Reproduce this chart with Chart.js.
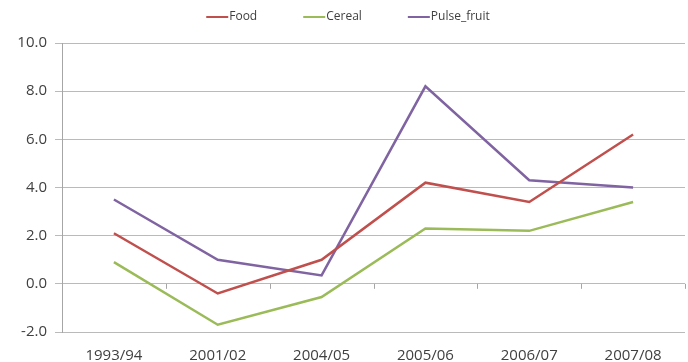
<!DOCTYPE html>
<html>
<head>
<meta charset="utf-8">
<script src="https://cdn.jsdelivr.net/npm/chart.js@4"></script>
<style>
  html, body { margin: 0; padding: 0; background: #fff; }
  #wrap { width: 688px; height: 362px; position: relative; }
</style>
</head>
<body>
<div id="wrap"><canvas id="c"></canvas></div>
<script>
// Growth by period
const periods = ['1993/94', '2001/02', '2004/05', '2005/06', '2006/07', '2007/08'];
const food = [2.1, -0.4, 1.0, 4.2, 3.4, 6.2];
const cereal = [0.9, -1.7, -0.55, 2.3, 2.2, 3.4];
const pulseFruit = [3.5, 1.0, 0.35, 8.2, 4.3, 4.0];
const seriesNames = ['Food', 'Cereal', 'Pulse_fruit'];

const FONT = '"Open Sans", "Liberation Sans", sans-serif';
const TEXT = '#404040';
const GRID = '#BABABA';
const AXIS = '#A6A6A6';

// Legend row drawn across the top: short line sample followed by the name
const topLegend = {
  id: 'topLegend',
  afterDraw(chart) {
    const ctx = chart.ctx;
    const sets = chart.data.datasets;
    const lineLen = 22, textGap = 1, itemGap = 46, y = 17;
    ctx.save();
    ctx.font = '12px ' + FONT;
    const widths = sets.map(ds => lineLen + textGap + ctx.measureText(ds.label).width);
    const total = widths.reduce((a, b) => a + b, 0) + itemGap * (sets.length - 1);
    let x = 348 - total / 2;
    sets.forEach((ds, i) => {
      ctx.strokeStyle = ds.borderColor;
      ctx.lineWidth = 2;
      ctx.beginPath();
      ctx.moveTo(x, y);
      ctx.lineTo(x + lineLen, y);
      ctx.stroke();
      ctx.fillStyle = TEXT;
      ctx.textBaseline = 'middle';
      ctx.textAlign = 'left';
      ctx.fillText(ds.label, x + lineLen + textGap, y);
      x += widths[i] + itemGap;
    });
    ctx.restore();
  }
};

// Category boundary tick marks hanging below the zero line
const zeroTicks = {
  id: 'zeroTicks',
  beforeDatasetsDraw(chart) {
    const xs = chart.scales.x, ys = chart.scales.y;
    const y0 = ys.getPixelForValue(0);
    const ctx = chart.ctx;
    ctx.save();
    ctx.strokeStyle = AXIS;
    ctx.lineWidth = 1;
    ctx.beginPath();
    for (let i = 0; i <= periods.length; i++) {
      const x = Math.round(xs.getPixelForValue(i - 0.5)) + 0.5;
      ctx.moveTo(x, y0);
      ctx.lineTo(x, y0 + 5);
    }
    ctx.stroke();
    ctx.restore();
  }
};

new Chart(document.getElementById('c'), {
  type: 'line',
  data: {
    labels: periods,
    datasets: [
      { label: seriesNames[0], data: food, borderColor: '#C0504D' },
      { label: seriesNames[1], data: cereal, borderColor: '#9BBB59' },
      { label: seriesNames[2], data: pulseFruit, borderColor: '#8064A2' }
    ]
  },
  options: {
    responsive: true,
    maintainAspectRatio: false,
    animation: false,
    layout: { padding: { top: 43, right: 3, left: 0, bottom: 0 } },
    elements: {
      line: { borderWidth: 2.5, tension: 0, borderCapStyle: 'butt' },
      point: { radius: 0, hoverRadius: 0 }
    },
    plugins: { legend: { display: false }, tooltip: { enabled: false } },
    scales: {
      x: {
        type: 'category',
        offset: true,
        grid: { display: false, drawTicks: false },
        border: { display: false },
        ticks: { font: { family: FONT, size: 15 }, color: TEXT, padding: 15, maxRotation: 0, autoSkip: false },
        afterFit(s) { s.height = 30; }
      },
      y: {
        min: -2,
        max: 10,
        grid: { color: GRID, tickLength: 7, lineWidth: 1 },
        border: { display: true, color: AXIS },
        ticks: {
          stepSize: 2,
          font: { family: FONT, size: 15 },
          color: TEXT,
          padding: 8,
          callback: v => Number(v).toFixed(1)
        },
        afterFit(s) { s.width = 62; }
      }
    }
  },
  plugins: [zeroTicks, topLegend]
});
</script>
</body>
</html>
